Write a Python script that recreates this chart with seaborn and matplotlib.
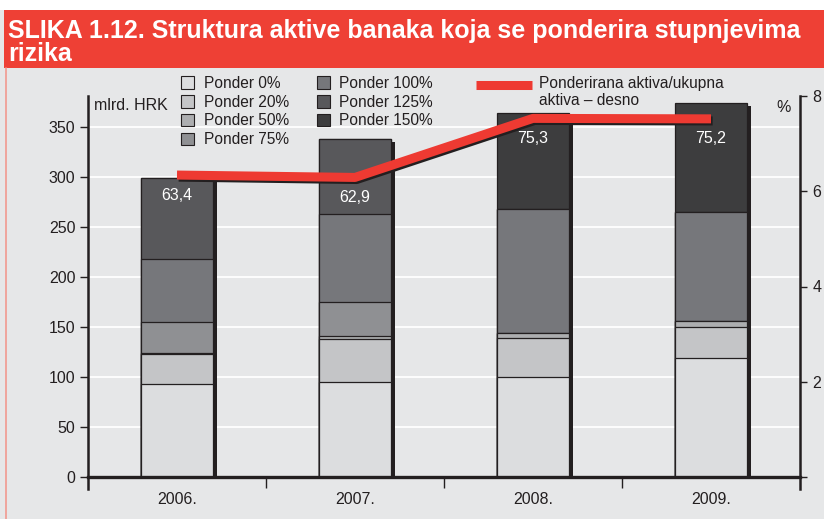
import numpy as np
import pandas as pd
import seaborn as sns
import matplotlib
matplotlib.use("Agg")
import matplotlib.pyplot as plt
import matplotlib.patheffects as pe
from matplotlib.patches import Rectangle, Patch
from matplotlib.lines import Line2D
from matplotlib.legend_handler import HandlerLine2D
from matplotlib import font_manager as fm

# ---------------- data ----------------
years = ['2006.', '2007.', '2008.', '2009.']
ponder_0 = [93.0, 94.7, 99.7, 119.3]
ponder_20 = [29.7, 43.3, 39.6, 31.0]
ponder_50 = [1.6, 3.3, 5.0, 5.4]
ponder_75 = [31.0, 34.0, 0.0, 0.0]
ponder_100 = [62.7, 87.4, 123.4, 109.6]
ponder_125 = [81.0, 75.3, 0.0, 0.0]
ponder_150 = [0.0, 0.0, 96.6, 109.0]
ratio = [63.4, 62.9, 75.3, 75.2]
ratio_labels = ['63,4', '62,9', '75,3', '75,2']
layer_names = ['Ponder 0%', 'Ponder 20%', 'Ponder 50%', 'Ponder 75%',
               'Ponder 100%', 'Ponder 125%', 'Ponder 150%']
line_label = 'Ponderirana aktiva/ukupna\naktiva – desno'
left_ticks = [0, 50, 100, 150, 200, 250, 300, 350]
right_ticks = [0, 20, 40, 60, 80]
# the reference shows only the first digit of each right-axis label (cropped at the edge)
right_ticklabels = ['', '2', '4', '6', '8']
title = 'SLIKA 1.12. Struktura aktive banaka koja se ponderira stupnjevima'
title2 = 'rizika'

# ---------------- style ----------------
colors = ['#dcdddf', '#c4c5c7', '#adaeb0', '#8f9093', '#76777b', '#58585b', '#3d3d3e']
BG = '#e6e7e8'
DARK = '#231f20'
RED = '#ee3a32'

sns.set_theme(style='white')
names = {f.name for f in fm.fontManager.ttflist}
base = 'Liberation Sans' if 'Liberation Sans' in names else 'DejaVu Sans'
narrow = 'Liberation Sans Narrow' if 'Liberation Sans Narrow' in names else base
plt.rcParams['font.family'] = [base, 'DejaVu Sans']

W, H = 824, 519
fig = plt.figure(figsize=(W / 100, H / 100), dpi=100, facecolor=BG)


def fx(px):
    return px / W


def fy(py):
    return 1 - py / H


fig.patches.append(Rectangle((0, fy(10)), 1, 10 / H, transform=fig.transFigure,
                             facecolor='white', edgecolor='none', zorder=0))
fig.patches.append(Rectangle((fx(4), fy(68)), 1, 58 / H, transform=fig.transFigure,
                             facecolor='#ee4035', edgecolor='none', zorder=0))
fig.add_artist(Line2D([fx(6), fx(6)], [0, fy(68)], color='#f29a90', lw=1.2))

title_size = 18 if narrow == base else 21
fig.text(fx(8), fy(38), title, color='white', fontweight='bold', family=[narrow, 'DejaVu Sans'],
         fontsize=title_size, ha='left', va='baseline')
fig.text(fx(8), fy(61), title2, color='white', fontweight='bold', family=[narrow, 'DejaVu Sans'],
         fontsize=title_size, ha='left', va='baseline')

ax = fig.add_axes([fx(88), fy(477), fx(800) - fx(88), (477 - 96) / H])
ax.set_facecolor(BG)

layers = np.array([ponder_0, ponder_20, ponder_50, ponder_75, ponder_100, ponder_125, ponder_150])
cum = np.cumsum(layers, axis=0)
for i in range(len(layers) - 1, -1, -1):
    n_before = len(ax.patches)
    sns.barplot(x=years, y=cum[i], color=colors[i], saturation=1, width=0.4,
                edgecolor=DARK, linewidth=0.9, ax=ax, zorder=2)
    if i == len(layers) - 1:
        for p in ax.patches[n_before:]:
            p.set_path_effects([pe.SimplePatchShadow(offset=(3, -2.5), shadow_rgbFace=DARK, alpha=1.0),
                                pe.Normal()])

ax.set_xlim(-0.5, 3.5)
ax.set_ylim(0, 381)
ax.set_yticks(left_ticks)
ax.set_xlabel('')
ax.set_ylabel('')
ax.yaxis.grid(True, color='white', lw=1.3)
ax.set_axisbelow(True)
ax.tick_params(axis='y', length=6, width=1, color=DARK, pad=3, labelsize=11.5, labelcolor=DARK, left=True)
ax.tick_params(axis='x', which='major', length=0, pad=10.5, labelsize=11.5, labelcolor=DARK)
ax.set_xticks([0.5, 1.5, 2.5], minor=True)
ax.tick_params(axis='x', which='minor', length=8, width=1, color=DARK, direction='out', bottom=True)
for s in ['top', 'right']:
    ax.spines[s].set_visible(False)
ax.spines['bottom'].set_linewidth(2.4)
ax.spines['bottom'].set_color(DARK)
ax.spines['left'].set_linewidth(1.8)
ax.spines['left'].set_color(DARK)
ax.spines['left'].set_bounds(-12, 381)
ax.text(0.008, 0.995, 'mlrd. HRK', transform=ax.transAxes, ha='left', va='top', fontsize=11.5, color=DARK)

ax2 = ax.twinx()
sns.lineplot(x=np.arange(len(ratio)), y=ratio, ax=ax2, color=RED, lw=6.5,
             solid_capstyle='butt',
             path_effects=[pe.SimpleLineShadow(offset=(1.2, -1.5), shadow_color=DARK, alpha=1.0),
                           pe.Normal()])
ax2.set_xlim(-0.5, 3.5)
ax2.set_ylim(0, 80)
ax2.set_yticks(right_ticks)
ax2.set_yticklabels(right_ticklabels)
ax2.set_ylabel('')
ax2.set_xlabel('')
ax2.tick_params(axis='y', length=5, width=1, color=DARK, pad=4, labelsize=11.5, labelcolor=DARK, right=True)
for s in ['top', 'left', 'bottom']:
    ax2.spines[s].set_visible(False)
ax2.spines['right'].set_linewidth(1.8)
ax2.spines['right'].set_color(DARK)
ax2.spines['right'].set_bounds(-12 * 80 / 381, 80)
ax2.text(0.987, 0.99, '%', transform=ax2.transAxes, ha='right', va='top', fontsize=11.5, color=DARK)

for i, (v, t) in enumerate(zip(ratio, ratio_labels)):
    ax2.annotate(t, (i, v), xytext=(0, -14.5), textcoords='offset points',
                 ha='center', va='center', color='white', fontsize=11.5)

handles = [Patch(facecolor=c, edgecolor=DARK, lw=0.8) for c in colors]
fig.legend(handles, layer_names, ncol=2, loc='upper left', bbox_to_anchor=(fx(181), fy(76)),
           frameon=False, fontsize=11.2, handlelength=0.85, handleheight=0.85,
           handletextpad=0.6, columnspacing=1.8, labelspacing=0.24, borderpad=0,
           borderaxespad=0, labelcolor=DARK)


class UpperLineHandler(HandlerLine2D):
    def create_artists(self, legend, orig_handle, xdescent, ydescent, width, height, fontsize, trans):
        arts = super().create_artists(legend, orig_handle, xdescent, ydescent, width, height,
                                      fontsize, trans)
        for a in arts:
            a.set_ydata(np.asarray(a.get_ydata()) + 0.52 * fontsize)
        return arts


red_handle = Line2D([0], [0], color=RED, lw=6.5, solid_capstyle='butt')
fig.legend([red_handle], [line_label], loc='upper left',
           bbox_to_anchor=(fx(476), fy(76)), frameon=False, fontsize=11.2,
           handlelength=3.6, handletextpad=0.45, borderpad=0, borderaxespad=0, labelcolor=DARK,
           handler_map={red_handle: UpperLineHandler()})

fig.savefig('out.png', dpi=100, facecolor=fig.get_facecolor())
